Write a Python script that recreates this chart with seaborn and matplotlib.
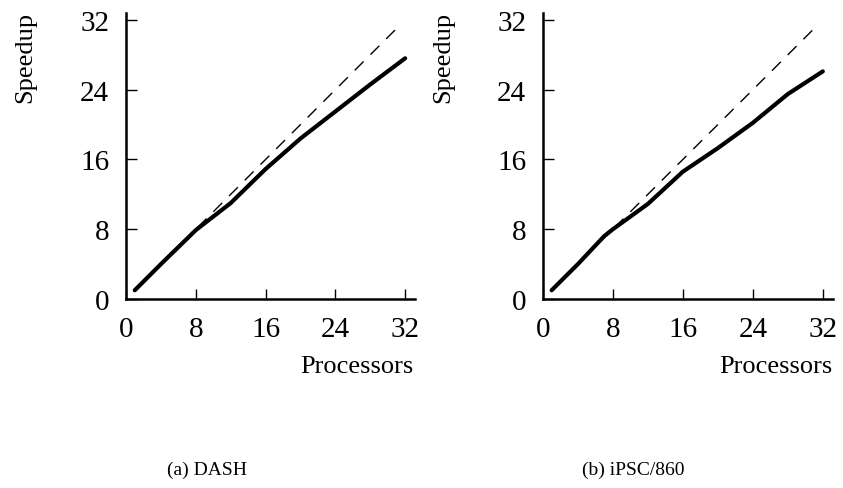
import matplotlib
matplotlib.use("Agg")
import matplotlib.pyplot as plt
import seaborn as sns
import pandas as pd

sns.set_style("ticks")
plt.rcParams['font.family'] = ['Liberation Serif', 'DejaVu Serif']
plt.rcParams['text.color'] = 'black'
plt.rcParams['xtick.color'] = 'black'
plt.rcParams['ytick.color'] = 'black'
plt.rcParams['axes.edgecolor'] = 'black'

procs = [1, 2, 4, 8, 12, 16, 20, 24, 28, 32]
dash_speedup = [1.0, 2.0, 4.0, 7.9, 11.0, 14.9, 18.4, 21.5, 24.6, 27.6]
ipsc_procs = [1, 2, 4, 7, 8, 12, 16, 20, 24, 28, 32]
ipsc_speedup = [1.0, 2.0, 4.0, 7.2, 8.0, 10.9, 14.6, 17.3, 20.2, 23.5, 26.1]
ideal_x = [1, 31]
ideal_y = [1, 31]
ticks = [0, 8, 16, 24, 32]
captions = ["(a) DASH", "(b) iPSC/860"]

fig = plt.figure(figsize=(8.43, 4.89), dpi=100)
ax1 = fig.add_axes([0.1495, 0.3865, 0.343, 0.585])
ax2 = fig.add_axes([0.644, 0.3865, 0.344, 0.585])

datasets = [(ax1, procs, dash_speedup), (ax2, ipsc_procs, ipsc_speedup)]
for ax, xs, ys in datasets:
    df = pd.DataFrame({"Processors": xs, "Speedup": ys})
    ideal = pd.DataFrame({"Processors": ideal_x, "Speedup": ideal_y})
    sns.lineplot(data=ideal, x="Processors", y="Speedup", ax=ax,
                 color="black", linewidth=1.0, linestyle=(0, (9, 7)))
    sns.lineplot(data=df, x="Processors", y="Speedup", ax=ax,
                 color="black", linewidth=3.0)
    ax.set_xlim(0, 33.15)
    ax.set_ylim(0, 32.8)
    ax.set_xticks(ticks)
    ax.set_yticks(ticks)
    ax.set_xticklabels([str(t) for t in ticks], fontsize=21)
    ax.set_yticklabels([str(t) for t in ticks], fontsize=21)
    ax.tick_params(axis='x', direction='in', length=7, width=1, pad=12)
    ax.tick_params(axis='y', direction='in', length=8, width=1, pad=12)
    for s in ['top', 'right']:
        ax.spines[s].set_visible(False)
    for s in ['left', 'bottom']:
        ax.spines[s].set_linewidth(1.8)
    ax.set_xlabel("")
    ax.set_ylabel("")

# axis labels
fig.text(413 / 843, 1 - 373 / 489, "Processors", fontsize=19, ha='right', va='baseline')
fig.text(832 / 843, 1 - 373 / 489, "Processors", fontsize=19, ha='right', va='baseline')
fig.text(25 / 843, 1 - 12 / 489, "Speedup", fontsize=19, rotation=90, ha='center', va='top')
fig.text(443 / 843, 1 - 12 / 489, "Speedup", fontsize=19, rotation=90, ha='center', va='top')

fig.text(207 / 843, 1 - 470 / 489, captions[0], fontsize=14, ha='center', va='center')
fig.text(633 / 843, 1 - 470 / 489, captions[1], fontsize=14, ha='center', va='center')

fig.savefig("out.png", dpi=100)
